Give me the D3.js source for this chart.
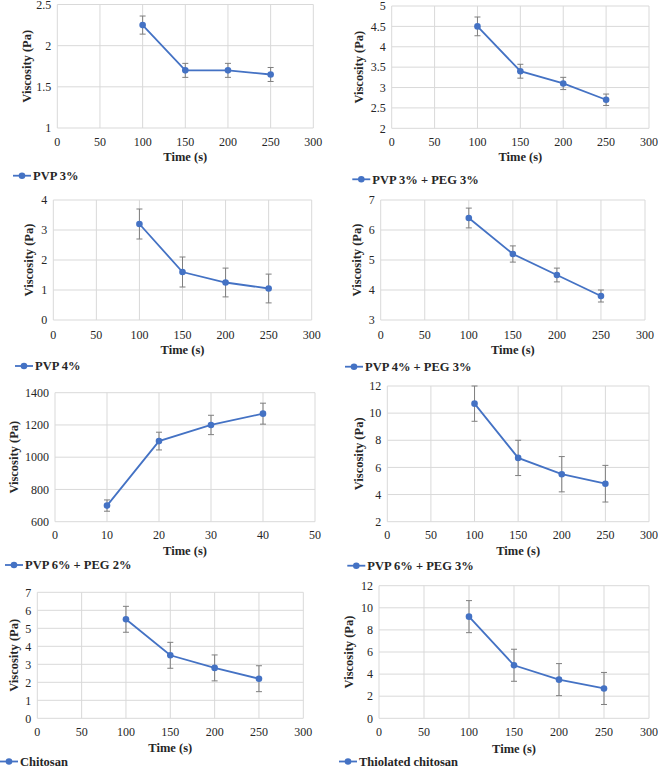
<!DOCTYPE html>
<html><head><meta charset="utf-8">
<script src="https://cdn.jsdelivr.net/npm/d3@7"></script>
<style>body{margin:0;background:#fff}svg{display:block}</style>
</head><body>
<svg id="c" width="658" height="767"></svg>
<script>
const names = ["PVP 3%","PVP 3% + PEG 3%","PVP 4%","PVP 4% + PEG 3%","PVP 6% + PEG 2%","PVP 6% + PEG 3%","Chitosan","Thiolated chitosan"];
const timeA = [100,150,200,250];
const timeB = [10,20,30,40];
const v1 = [2.25,1.7,1.7,1.65],   e1 = [0.11,0.085,0.085,0.085];
const v2 = [4.5,3.4,3.1,2.7],     e2 = [0.23,0.17,0.15,0.14];
const v3 = [3.2,1.6,1.25,1.05],   e3 = [0.5,0.5,0.48,0.48];
const v4 = [6.4,5.2,4.5,3.8],     e4 = [0.33,0.27,0.23,0.2];
const v5 = [700,1100,1200,1270],  e5 = [35,55,60,65];
const v6 = [10.7,6.7,5.5,4.8],    e6 = [1.3,1.3,1.3,1.35];
const v7 = [5.5,3.5,2.8,2.2],     e7 = [0.72,0.72,0.72,0.72];
const v8 = [9.2,4.8,3.5,2.7],     e8 = [1.45,1.45,1.45,1.45];
const yTicks1 = [1,1.5,2,2.5];
const yTicks2 = [2,2.5,3,3.5,4,4.5,5];
const yTicks3 = [0,1,2,3,4];
const yTicks4 = [3,4,5,6,7];
const yTicks5 = [600,800,1000,1200,1400];
const yTicks6 = [2,4,6,8,10,12];
const yTicks7 = [0,1,2,3,4,5,6,7];
const yTicks8 = [0,2,4,6,8,10,12];
const xTicksA = [0,50,100,150,200,250,300];
const xTicksB = [0,10,20,30,40,50];
const xLabel = "Time (s)", yLabel = "Viscosity (Pa)";

const panels = [
 {n:0,t:timeA,v:v1,e:e1,yt:yTicks1,xt:xTicksA, L:57.3,R:313.3,T:4.5,B:128,xl:141.7,xt2:156.7,lg:175.7,lx:13,yx:26.7},
 {n:1,t:timeA,v:v2,e:e2,yt:yTicks2,xt:xTicksA, L:391.7,R:649,T:6,B:128.3,xl:141.7,xt2:156.7,lg:179.3,lx:352.3,yx:359},
 {n:2,t:timeA,v:v3,e:e3,yt:yTicks3,xt:xTicksA, L:53.3,R:311.7,T:200,B:320,xl:335,xt2:350,lg:366,lx:15,yx:28.3},
 {n:3,t:timeA,v:v4,e:e4,yt:yTicks4,xt:xTicksA, L:380.7,R:645,T:200,B:320,xl:335,xt2:350,lg:366.7,lx:345,yx:357},
 {n:4,t:timeB,v:v5,e:e5,yt:yTicks5,xt:xTicksB, L:55,R:315,T:392.7,B:521.7,xl:535,xt2:550.7,lg:565,lx:5,yx:13.3},
 {n:5,t:timeA,v:v6,e:e6,yt:yTicks6,xt:xTicksA, L:387.3,R:649,T:386,B:521.7,xl:535,xt2:550.7,lg:565.7,lx:347.3,yx:358.3},
 {n:6,t:timeA,v:v7,e:e7,yt:yTicks7,xt:xTicksA, L:37.3,R:303.3,T:592.3,B:718.3,xl:731.7,xt2:747.7,lg:761.5,lx:0,yx:13.3},
 {n:7,t:timeA,v:v8,e:e8,yt:yTicks8,xt:xTicksA, L:379,R:649,T:585.7,B:718.3,xl:731.7,xt2:748.3,lg:761.5,lx:339,yx:349}
];

const svg = d3.select("#c");
const blue = "#4472C4", grid = "#d9d9d9", errC = "#7f7f7f", txt = "#262626";
const ff = "'Liberation Serif', serif";
const fs = 12;

panels.forEach(p => {
  const g = svg.append("g");
  const x = d3.scaleLinear().domain(d3.extent(p.xt)).range([p.L,p.R]);
  const y = d3.scaleLinear().domain(d3.extent(p.yt)).range([p.B,p.T]);
  g.selectAll(".hg").data(p.yt).join("line")
    .attr("x1",p.L).attr("x2",p.R).attr("y1",d=>y(d)).attr("y2",d=>y(d))
    .attr("stroke",grid).attr("stroke-width",1);
  g.selectAll(".vg").data(p.xt).join("line")
    .attr("x1",d=>x(d)).attr("x2",d=>x(d)).attr("y1",p.T).attr("y2",p.B)
    .attr("stroke",grid).attr("stroke-width",1);
  g.selectAll(".yl").data(p.yt).join("text")
    .attr("x",p.L-6).attr("y",d=>y(d)).attr("dy","0.35em")
    .attr("text-anchor","end").attr("font-family",ff).attr("font-size",fs).attr("fill",txt)
    .text(d=>String(d));
  g.selectAll(".xl").data(p.xt).join("text")
    .attr("x",d=>x(d)).attr("y",p.xl).attr("dy","0.35em")
    .attr("text-anchor","middle").attr("font-family",ff).attr("font-size",fs).attr("fill",txt)
    .text(d=>String(d));
  g.append("text").attr("x",(p.L+p.R)/2).attr("y",p.xt2).attr("dy","0.35em")
    .attr("text-anchor","middle").attr("font-family",ff).attr("font-size",12.5).attr("font-weight","bold").attr("fill",txt)
    .text(xLabel);
  g.append("text").attr("transform",`translate(${p.yx},${(p.T+p.B)/2}) rotate(-90)`)
    .attr("dy","0.35em").attr("text-anchor","middle").attr("font-family",ff).attr("font-size",12.5).attr("font-weight","bold").attr("fill",txt)
    .text(yLabel);
  const pts = p.t.map((t,i)=>({t, v:p.v[i], e:p.e[i]}));
  const eb = g.selectAll(".eb").data(pts).join("g").attr("stroke",errC).attr("stroke-width",1);
  eb.append("line").attr("x1",d=>x(d.t)).attr("x2",d=>x(d.t)).attr("y1",d=>Math.max(p.T,y(d.v+d.e))).attr("y2",d=>y(d.v-d.e));
  eb.append("line").attr("x1",d=>x(d.t)-3).attr("x2",d=>x(d.t)+3).attr("y1",d=>Math.max(p.T,y(d.v+d.e))).attr("y2",d=>Math.max(p.T,y(d.v+d.e)));
  eb.append("line").attr("x1",d=>x(d.t)-3).attr("x2",d=>x(d.t)+3).attr("y1",d=>y(d.v-d.e)).attr("y2",d=>y(d.v-d.e));
  g.append("path").datum(pts).attr("fill","none").attr("stroke",blue).attr("stroke-width",1.8)
    .attr("d",d3.line().x(d=>x(d.t)).y(d=>y(d.v)));
  g.selectAll(".pt").data(pts).join("circle")
    .attr("cx",d=>x(d.t)).attr("cy",d=>y(d.v)).attr("r",3.3).attr("fill",blue);
  g.append("line").attr("x1",p.lx).attr("x2",p.lx+18).attr("y1",p.lg).attr("y2",p.lg)
    .attr("stroke",blue).attr("stroke-width",1.8);
  g.append("circle").attr("cx",p.lx+9).attr("cy",p.lg).attr("r",3.3).attr("fill",blue);
  g.append("text").attr("x",p.lx+20).attr("y",p.lg).attr("dy","0.35em")
    .attr("font-family",ff).attr("font-size",12.5).attr("font-weight","bold").attr("fill",txt).text(names[p.n]);
});
</script>
</body></html>
